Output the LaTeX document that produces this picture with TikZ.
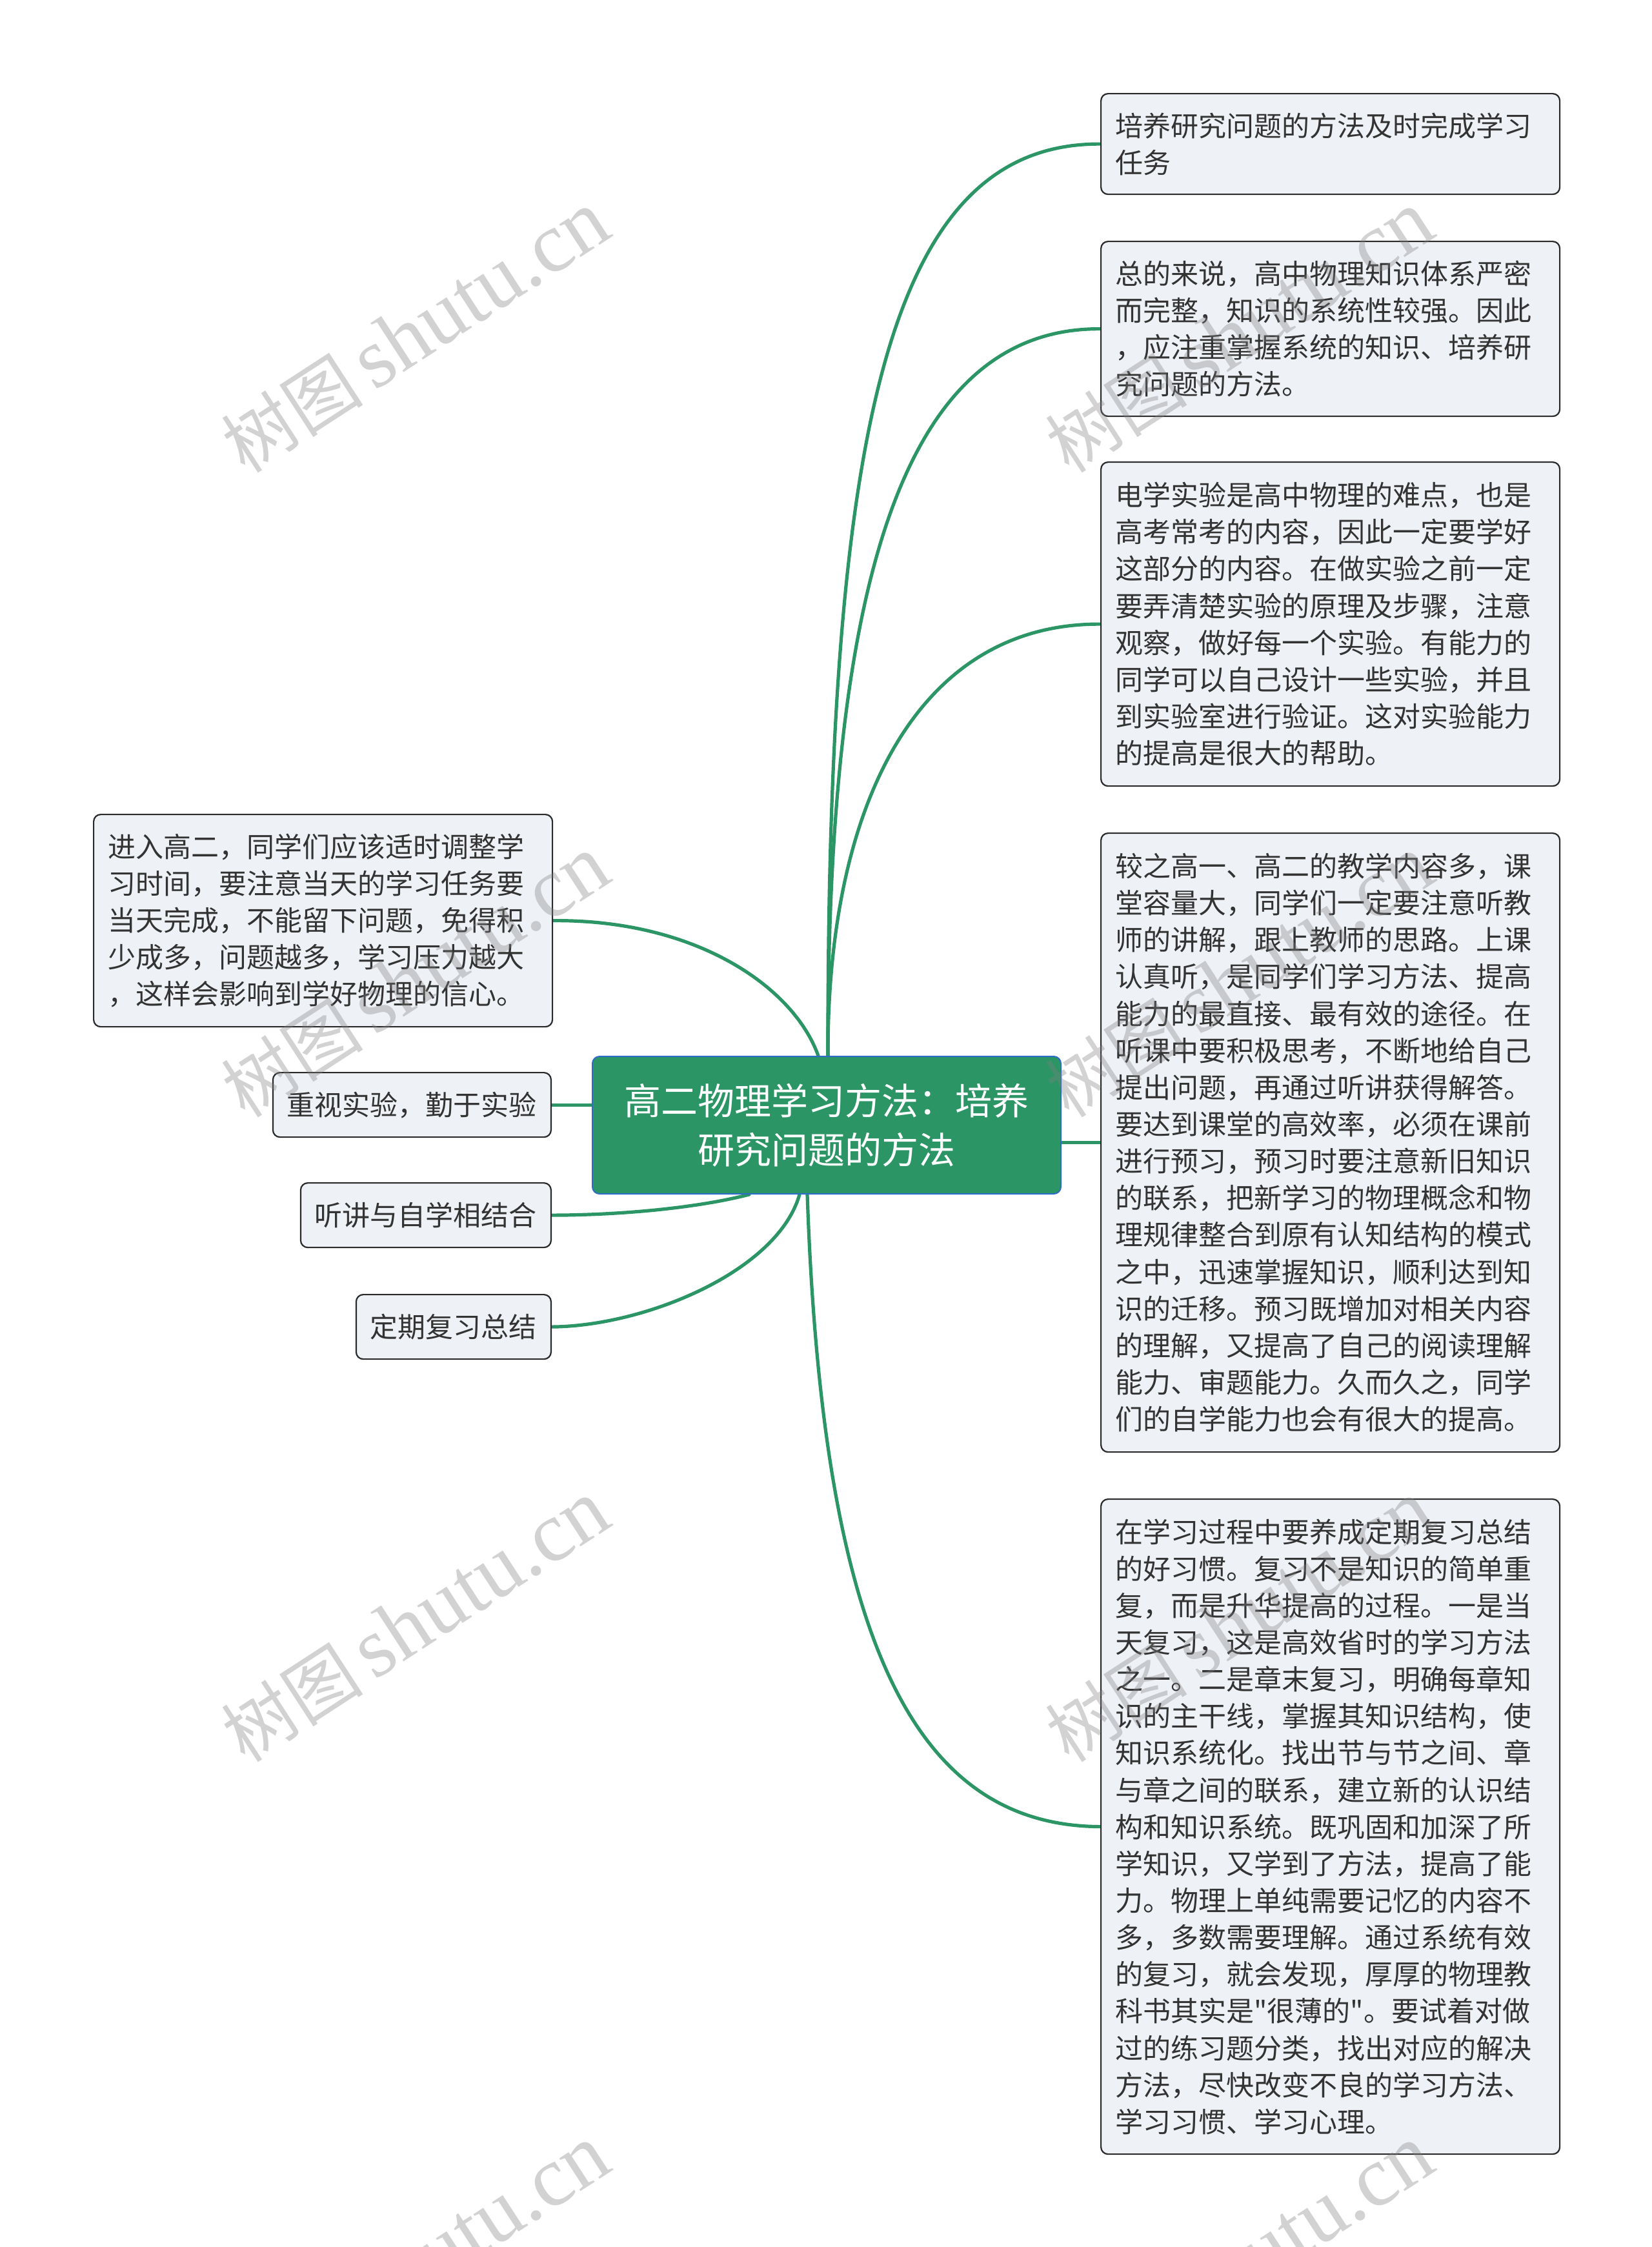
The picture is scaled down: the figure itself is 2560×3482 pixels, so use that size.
\documentclass[tikz,border=0pt]{standalone}
\usepackage{fontspec}
\setmainfont{Noto Sans CJK SC}
\newfontfamily\cjk{Noto Sans CJK SC}
\newfontfamily\wmserif{Liberation Serif}
\usetikzlibrary{calc,backgrounds}
\definecolor{brgreen}{HTML}{2B9565}
\definecolor{boxfill}{HTML}{EEF1F5}
\definecolor{boxline}{HTML}{2A2A2A}
\definecolor{txt}{HTML}{333333}
\definecolor{rootline}{HTML}{2F6BC8}
\begin{document}
\begin{tikzpicture}[x=0.5pt,y=-0.5pt,
  leafbox/.style={draw=boxline, line width=1.1pt, fill=boxfill, rounded corners=5.5pt,
    font=\cjk\fontsize{21.5pt}{28.57pt}\selectfont, text=txt, inner sep=0pt},
  multileaf/.style={leafbox, align=left, text width=333pt, minimum width=355.5pt, anchor=north west},
  oneleaf/.style={leafbox, inner xsep=11pt, minimum height=50pt, anchor=north east},
  rootbox/.style={draw=rootline, line width=1pt, fill=brgreen, rounded corners=5.5pt,
    font=\cjk\fontsize{28.5pt}{37.75pt}\selectfont, text=white, align=center,
    minimum width=363pt, minimum height=106.5pt, inner sep=0pt, anchor=north west},
  conn/.style={draw=brgreen, line width=2.6pt, line cap=round},
  wmark/.style={rotate=33, text=gray, opacity=0.35, inner sep=0pt}
]
\useasboundingbox (0,0) rectangle (2560,3482);
\clip (0,0) rectangle (2560,3482);

% central topic
\node[rootbox] (c) at (917,1636) {高二物理学习方法：培养\\研究问题的方法};

% right branches
\node[multileaf, minimum height=78pt] (r1) at (1705,144) {培养研究问题的方法及时完成学习\\任务};
\node[multileaf, minimum height=135.5pt] (r2) at (1705,373) {总的来说，高中物理知识体系严密\\而完整，知识的系统性较强。因此\\，应注重掌握系统的知识、培养研\\究问题的方法。};
\node[multileaf, minimum height=251pt] (r3) at (1705,715) {电学实验是高中物理的难点，也是\\高考常考的内容，因此一定要学好\\这部分的内容。在做实验之前一定\\要弄清楚实验的原理及步骤，注意\\观察，做好每一个实验。有能力的\\同学可以自己设计一些实验，并且\\到实验室进行验证。这对实验能力\\的提高是很大的帮助。};
\node[multileaf, minimum height=479.5pt] (r4) at (1705,1290) {较之高一、高二的教学内容多，课\\堂容量大，同学们一定要注意听教\\师的讲解，跟上教师的思路。上课\\认真听，是同学们学习方法、提高\\能力的最直接、最有效的途径。在\\听课中要积极思考，不断地给自己\\提出问题，再通过听讲获得解答。\\要达到课堂的高效率，必须在课前\\进行预习，预习时要注意新旧知识\\的联系，把新学习的物理概念和物\\理规律整合到原有认知结构的模式\\之中，迅速掌握知识，顺利达到知\\识的迁移。预习既增加对相关内容\\的理解，又提高了自己的阅读理解\\能力、审题能力。久而久之，同学\\们的自学能力也会有很大的提高。};
\node[multileaf, minimum height=507.5pt] (r5) at (1705,2322) {在学习过程中要养成定期复习总结\\的好习惯。复习不是知识的简单重\\复，而是升华提高的过程。一是当\\天复习，这是高效省时的学习方法\\之一。二是章末复习，明确每章知\\识的主干线，掌握其知识结构，使\\知识系统化。找出节与节之间、章\\与章之间的联系，建立新的认识结\\构和知识系统。既巩固和加深了所\\学知识，又学到了方法，提高了能\\力。物理上单纯需要记忆的内容不\\多，多数需要理解。通过系统有效\\的复习，就会发现，厚厚的物理教\\科书其实是"很薄的"。要试着对做\\过的练习题分类，找出对应的解决\\方法，尽快改变不良的学习方法、\\学习习惯、学习心理。};

% left branches
\node[multileaf, minimum height=164.5pt] (l1) at (144,1261) {进入高二，同学们应该适时调整学\\习时间，要注意当天的学习任务要\\当天完成，不能留下问题，免得积\\少成多，问题越多，学习压力越大\\，这样会影响到学好物理的信心。};
\node[oneleaf] (l2) at (855,1661) {重视实验，勤于实验};
\node[oneleaf] (l3) at (855,1832) {听讲与自学相结合};
\node[oneleaf] (l4) at (855,2005) {定期复习总结};

% connectors, behind the boxes
\begin{pgfonlayer}{background}
\fill[white] (0,0) rectangle (2560,3482);
\draw[conn] ($(c.north)+(2,0)$) .. controls (1282,650) and (1380,222) .. (r1.west);
\draw[conn] ($(c.north)+(2,0)$) .. controls (1282,900) and (1400,508) .. (r2.west);
\draw[conn] ($(c.north)+(2,0)$) .. controls (1282,1250) and (1420,966) .. (r3.west);
\draw[conn] (c.east |- r4.west) -- (r4.west);
\draw[conn] ($(c.south)+(-30,0)$) .. controls (1275,2550) and (1420,2829) .. (r5.west);
\draw[conn] ($(c.north)+(-13,0)$) .. controls (1230,1530) and (1080,1425) .. (l1.east);
\draw[conn] (c.west |- l2.east) -- (l2.east);
\draw[conn] ($(c.south)+(-120,0)$) .. controls (1080,1872) and (960,1883) .. (l3.east);
\draw[conn] ($(c.south)+(-42,0)$) .. controls (1205,1970) and (1000,2055) .. (l4.east);
\end{pgfonlayer}

% watermarks
\foreach \wx/\wy [count=\i] in {644/515,1921/515,644/1514,1921/1514,644/2513,1921/2513,644/3512,1921/3512}{
  \node[wmark] (wm\i) at (\wx,\wy) {{\cjk\fontsize{55pt}{57pt}\selectfont 树图}\hspace{9pt}{\wmserif\fontsize{66pt}{68pt}\selectfont shutu.cn}};
}
\end{tikzpicture}
\end{document}
